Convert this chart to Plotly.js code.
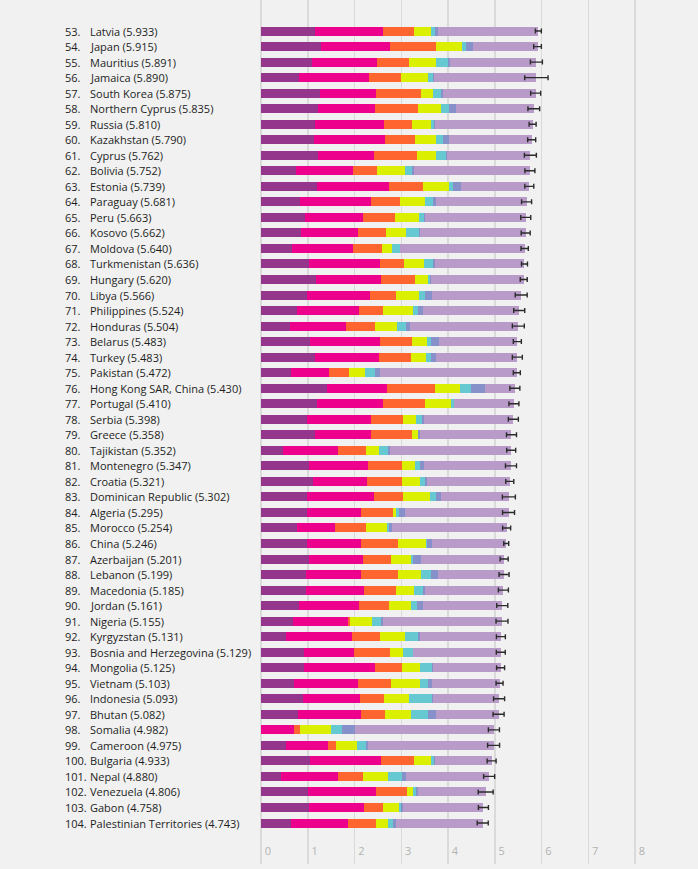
<!DOCTYPE html>
<html>
<head>
<meta charset="utf-8">
<script src="https://cdn.plot.ly/plotly-3.0.1.min.js"></script>
<style>
  html, body { margin: 0; padding: 0; background: #f0f1f0; }
  #chart { width: 698px; height: 869px; }
</style>
</head>
<body>
<div id="chart"></div>
<script>
const ranks = [53,54,55,56,57,58,59,60,61,62,63,64,65,66,67,68,69,70,71,72,73,74,75,76,77,78,79,80,81,82,83,84,85,86,87,88,89,90,91,92,93,94,95,96,97,98,99,100,101,102,103,104];
const countries = ["Latvia","Japan","Mauritius","Jamaica","South Korea","Northern Cyprus","Russia","Kazakhstan","Cyprus","Bolivia","Estonia","Paraguay","Peru","Kosovo","Moldova","Turkmenistan","Hungary","Libya","Philippines","Honduras","Belarus","Turkey","Pakistan","Hong Kong SAR, China","Portugal","Serbia","Greece","Tajikistan","Montenegro","Croatia","Dominican Republic","Algeria","Morocco","China","Azerbaijan","Lebanon","Macedonia","Jordan","Nigeria","Kyrgyzstan","Bosnia and Herzegovina","Mongolia","Vietnam","Indonesia","Bhutan","Somalia","Cameroon","Bulgaria","Nepal","Venezuela","Gabon","Palestinian Territories"];
const scores = [5.933,5.915,5.891,5.890,5.875,5.835,5.810,5.790,5.762,5.752,5.739,5.681,5.663,5.662,5.640,5.636,5.620,5.566,5.524,5.504,5.483,5.483,5.472,5.430,5.410,5.398,5.358,5.352,5.347,5.321,5.302,5.295,5.254,5.246,5.201,5.199,5.185,5.161,5.155,5.131,5.129,5.125,5.103,5.093,5.082,4.982,4.975,4.933,4.880,4.806,4.758,4.743];
const gdp = [1.148,1.294,1.090,0.819,1.266,1.229,1.151,1.143,1.229,0.751,1.200,0.835,0.934,0.855,0.657,1.016,1.171,0.985,0.775,0.620,1.039,1.148,0.652,1.405,1.188,0.975,1.154,0.474,1.017,1.115,0.982,0.979,0.779,0.989,1.024,0.965,0.959,0.822,0.689,0.530,0.915,0.914,0.715,0.899,0.796,0.000,0.535,1.054,0.425,0.996,1.036,0.642];
const social = [1.454,1.462,1.387,1.493,1.204,1.211,1.479,1.516,1.191,1.223,1.532,1.522,1.249,1.230,1.301,1.533,1.401,1.350,1.312,1.205,1.498,1.380,0.810,1.290,1.429,1.369,1.202,1.166,1.279,1.161,1.441,1.154,0.797,1.142,1.161,1.179,1.239,1.265,1.172,1.416,1.078,1.517,1.365,1.215,1.335,0.712,0.891,1.515,1.228,1.469,1.164,1.217];
const health = [0.671,0.988,0.684,0.693,0.955,0.909,0.599,0.631,0.909,0.508,0.737,0.615,0.674,0.578,0.620,0.517,0.732,0.553,0.513,0.622,0.700,0.686,0.424,1.030,0.884,0.685,0.879,0.598,0.729,0.737,0.614,0.687,0.669,0.799,0.603,0.785,0.691,0.645,0.048,0.594,0.758,0.575,0.702,0.522,0.527,0.115,0.182,0.712,0.539,0.657,0.404,0.602];
const freedom = [0.363,0.553,0.584,0.575,0.244,0.495,0.399,0.454,0.423,0.606,0.553,0.541,0.530,0.448,0.232,0.417,0.259,0.496,0.643,0.459,0.307,0.324,0.334,0.524,0.562,0.288,0.131,0.292,0.259,0.380,0.578,0.077,0.460,0.597,0.430,0.503,0.394,0.468,0.462,0.540,0.280,0.395,0.618,0.538,0.541,0.674,0.454,0.359,0.526,0.133,0.356,0.266];
const generosity = [0.092,0.079,0.245,0.096,0.175,0.179,0.065,0.148,0.202,0.141,0.086,0.162,0.092,0.274,0.171,0.199,0.061,0.116,0.120,0.197,0.101,0.106,0.216,0.246,0.055,0.134,0.000,0.187,0.111,0.120,0.120,0.055,0.026,0.029,0.031,0.214,0.173,0.130,0.201,0.281,0.216,0.253,0.177,0.484,0.364,0.238,0.183,0.064,0.302,0.056,0.032,0.086];
const corruption = [0.066,0.150,0.050,0.031,0.051,0.154,0.025,0.121,0.035,0.054,0.174,0.074,0.034,0.023,0.000,0.037,0.022,0.148,0.105,0.074,0.154,0.109,0.113,0.291,0.017,0.043,0.044,0.034,0.081,0.039,0.106,0.135,0.074,0.103,0.176,0.136,0.052,0.134,0.032,0.035,0.000,0.032,0.079,0.018,0.171,0.282,0.043,0.009,0.078,0.052,0.052,0.076];
const dystopia = [2.139,1.389,1.851,2.183,1.980,1.658,2.092,1.777,1.773,2.469,1.457,1.932,2.150,2.254,2.659,1.917,1.974,1.918,2.056,2.327,1.684,1.730,2.923,0.644,1.275,1.904,1.948,2.601,1.871,1.769,1.461,2.208,2.449,1.587,1.776,1.417,1.677,1.697,2.551,1.735,1.882,1.439,1.447,1.417,1.348,2.961,2.687,1.220,1.782,1.443,1.714,1.854];
const ciHalf = [0.064,0.082,0.128,0.250,0.107,0.125,0.075,0.086,0.128,0.107,0.096,0.107,0.107,0.096,0.078,0.064,0.075,0.128,0.118,0.128,0.086,0.107,0.075,0.107,0.107,0.107,0.107,0.096,0.118,0.086,0.139,0.128,0.086,0.053,0.086,0.107,0.107,0.118,0.128,0.096,0.096,0.086,0.075,0.118,0.118,0.118,0.128,0.096,0.118,0.160,0.107,0.118];
const tickVals = [0,1,2,3,4,5,6,7,8];

const seriesNames = ["GDP per capita","Social support","Healthy life expectancy","Freedom","Generosity","Perceptions of corruption","Dystopia + residual"];
const seriesData = [gdp, social, health, freedom, generosity, corruption, dystopia];
const seriesColors = ["#94368c","#ec008c","#ff652f","#dbf000","#66c8d0","#8690c9","#b99bc9"];

const traces = seriesData.map((vals, k) => ({
  type: "bar",
  orientation: "h",
  name: seriesNames[k],
  x: vals,
  y: countries,
  width: 0.58,
  marker: { color: seriesColors[k], line: { width: 0 } },
  hoverinfo: "x+name"
}));

traces.push({
  type: "scatter",
  mode: "markers",
  x: scores,
  y: countries,
  marker: { size: 1, opacity: 0 },
  error_x: { type: "data", array: ciHalf, visible: true, color: "#2b2b2b", thickness: 1.4, width: 2.5 },
  hoverinfo: "skip",
  showlegend: false
});

const plotL = 261, plotR = 11, W = 698;
const annotations = [];
countries.forEach((c, i) => {
  annotations.push({
    xref: "paper", yref: "y",
    x: (63 - plotL) / (W - plotL - plotR), y: c,
    text: ranks[i] + ".", showarrow: false, xanchor: "left", yanchor: "middle",
    font: { family: "Open Sans, sans-serif", size: 11, color: "#1e1e1e" }
  });
  annotations.push({
    xref: "paper", yref: "y",
    x: (88 - plotL) / (W - plotL - plotR), y: c,
    text: c + " (" + scores[i].toFixed(3) + ")", showarrow: false, xanchor: "left", yanchor: "middle",
    font: { family: "Open Sans, sans-serif", size: 11, color: "#1e1e1e" }
  });
});

const layout = {
  width: 698, height: 869,
  margin: { l: plotL, r: plotR, t: 0, b: 5, pad: 0 },
  paper_bgcolor: "#f0f1f0",
  plot_bgcolor: "#f0f1f0",
  barmode: "stack",
  showlegend: false,
  xaxis: {
    range: [0, (W - plotL - plotR) / 46.75],
    tickvals: tickVals,
    ticktext: tickVals.map(String),
    showgrid: true, gridcolor: "#d9dad9", gridwidth: 1.5,
    zeroline: true, zerolinecolor: "#d9dad9", zerolinewidth: 1.5,
    showline: false, ticks: "",
    ticklabelposition: "inside",
    ticklabelshift: 7,
    ticklabelstandoff: 4,
    tickfont: { family: "Open Sans, sans-serif", size: 11, color: "#b3b3b3" },
    fixedrange: true
  },
  yaxis: {
    type: "category",
    range: [53.64, -2.0],
    showgrid: false, zeroline: false, showline: false,
    showticklabels: false, ticks: "",
    fixedrange: true
  },
  annotations: annotations
};

Plotly.newPlot("chart", traces, layout, { displayModeBar: false, staticPlot: true });
</script>
</body>
</html>
